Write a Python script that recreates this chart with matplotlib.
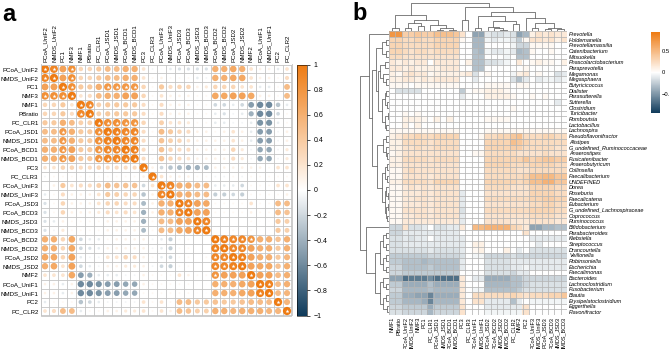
import matplotlib

matplotlib.use("Agg")
import matplotlib.pyplot as plt  # noqa: E402
import numpy as np  # noqa: E402
from matplotlib.colors import LinearSegmentedColormap, Normalize  # noqa: E402
from matplotlib.patches import Circle  # noqa: E402
from matplotlib.cm import ScalarMappable  # noqa: E402

plt.rcParams["font.family"] = ["Liberation Sans", "DejaVu Sans"]

# ---------------- panel a: correlation between ordination axes ----------------
VARS_A = ["PCoA_UniF2", "NMDS_UniF2", "PC1", "NMF3", "NMF1", "PBratio", "PC_CLR1",
          "PCoA_JSD1", "NMDS_JSD1", "PCoA_BCD1", "NMDS_BCD1", "PC3", "PC_CLR3",
          "PCoA_UniF3", "NMDS_UniF3", "PCoA_JSD3", "PCoA_BCD3", "NMDS_JSD3",
          "NMDS_BCD3", "PCoA_BCD2", "NMDS_BCD2", "PCoA_JSD2", "NMDS_JSD2", "NMF2",
          "PCoA_UniF1", "NMDS_UniF1", "PC2", "PC_CLR2"]

# upper triangle, row i holds columns i+1 .. 27
CORR_UPPER = [
    [.92, .70, .85, .30, .30, .40, .50, .50, .60, .60, .20, -.05, -.02, -.10, -.15, -.15, -.15, -.15, .60, .60, .65, .60, .20, .10, .10, -.10, .20],
    [.70, .85, .30, .30, .40, .50, .50, .60, .60, .20, .05, .10, .05, .05, .05, -.10, -.05, .60, .60, .65, .65, .20, .10, .10, .05, .25],
    [.85, .40, .40, .60, .78, .78, .78, .78, .30, .05, .40, .25, .30, .30, .10, .15, .30, .30, .30, .20, .20, -.10, -.10, .05, .50],
    [.20, .25, .50, .60, .60, .70, .70, .30, .05, .20, .10, .10, .10, .05, .05, .65, .65, .70, .70, .65, .10, .10, .05, .50],
    [.90, .35, .40, .40, .40, .40, .25, .05, .25, .10, .10, .10, .05, .05, -.20, -.20, -.10, -.20, -.50, -.60, -.60, -.30, -.10],
    [.35, .40, .40, .40, .40, .25, .05, .25, .10, .10, .10, .05, .05, -.10, -.15, -.05, -.10, -.40, -.60, -.60, -.20, .05],
    [.85, .85, .80, .80, .30, .05, .35, .20, .20, .15, .05, .05, -.10, -.10, -.05, -.05, -.10, -.55, -.55, -.10, .05],
    [.95, .90, .90, .25, .05, .50, .40, .30, .25, .10, .10, .05, .10, .20, .10, -.10, -.50, -.50, -.05, .10],
    [.90, .90, .25, .05, .45, .35, .30, .20, .10, .10, .10, .10, .20, .10, -.10, -.50, -.50, -.05, .10],
    [.95, .25, .05, .45, .30, .25, .25, .10, .10, .10, .10, .30, .15, -.05, -.45, -.45, -.05, .15],
    [.25, .05, .45, .30, .25, .20, .10, .10, .10, .10, .25, .15, -.05, -.45, -.45, -.05, .15],
    [.10, -.20, -.30, -.35, -.40, -.40, -.35, .10, .10, .10, .10, .10, .10, .05, .20, .20],
    [.20, .10, .10, .10, .05, .05, -.05, -.05, .05, -.05, .05, .05, .05, .05, .05],
    [.92, .60, .60, .50, .50, -.10, -.10, -.10, -.20, .05, .05, .05, .20, .20],
    [.60, .60, .50, .50, -.25, -.25, -.20, -.25, .05, .05, .05, .05, .10],
    [.92, .70, .65, .05, .05, .05, .05, .20, .05, .05, .50, .50],
    [.70, .70, .05, .05, .05, .05, .10, .05, .05, .50, .45],
    [.92, .00, .00, .00, .00, .05, .02, .02, .40, .35],
    [.00, .00, .05, .00, .05, .02, .02, .40, .35],
    [.95, .90, .90, .80, .60, .60, .45, .60],
    [.90, .90, .70, .60, .60, .40, .60],
    [.95, .70, .60, .60, .40, .55],
    [.70, .65, .65, .45, .60],
    [.70, .70, .50, .60],
    [.95, .50, .60],
    [.50, .55],
    [.55],
]
STAR_CUTOFF = 0.75

# ---------------- panel b: genera vs ordination axes ----------------
COLS_B = ["NMF1", "PBratio", "PCoA_UniF2", "NMDS_UniF2", "NMF3", "PC1", "PC_CLR1",
          "PCoA_JSD1", "NMDS_JSD1", "PCoA_BCD1", "NMDS_BCD1", "PC3", "PC_CLR3",
          "PCoA_UniF1", "NMDS_UniF1", "PCoA_JSD2", "PCoA_BCD2", "NMDS_JSD2",
          "NMDS_BCD2", "PC_CLR2", "NMF2", "PC2", "PCoA_UniF3", "NMDS_UniF3",
          "PCoA_JSD3", "PCoA_BCD3", "NMDS_JSD3", "NMDS_BCD3"]
GENERA = ["Prevotella", "Holdemanella", "Prevotellamassilia", "Catenibacterium",
          "Mitsuokella", "Phascolarctobacterium", "Paraprevotella", "Megamonas",
          "Megasphaera", "Butyricicoccus", "Dialister", "Parasutterella", "Sutterella",
          "Clostridium", "Turicibacter", "Romboutsia", "Lactobacillus", "Lachnospira",
          "Pseudoflavonifractor", "Alistipes", "G_undefined_Ruminococcaceae",
          "Anaerostipes", "Fusicatenibacter", "Anaerobutyricum", "Collinsella",
          "Faecalibacterium", "UNDEFINED", "Dorea", "Roseburia", "Faecalicatena",
          "Eubacterium", "G_undefined_Lachnospiraceae", "Coprococcus", "Ruminococcus",
          "Bifidobacterium", "Parabacteroides", "Klebsiella", "Streptococcus",
          "Drancourtella", "Veillonella", "Robinsoniella", "Escherichia", "Faecalimonas",
          "Bacteroides", "Lachnoclostridium", "Fusobacterium", "Blautia",
          "Erysipelatoclostridium", "Eggerthella", "Flavonifractor"]

GENUS_CORR = [
    [.75, .75, .35, .35, .40, .35, .35, .45, .45, .45, .40, .20, .00, -.45, -.45, -.10, -.15, -.15, -.10, -.15, -.45, -.35, .10, .20, .15, .20, .15, .15],
    [.30, .30, .25, .25, .30, .25, .25, .30, .30, .30, .30, .05, .00, -.35, -.35, -.05, -.10, -.05, -.05, -.10, -.25, .05, .20, .20, .15, .20, .10, .20],
    [.30, .30, .25, .25, .25, .25, .25, .30, .30, .30, .30, .00, .00, -.35, -.35, .00, .00, .00, .00, -.05, -.20, -.20, .05, .05, .05, .05, .00, .00],
    [.30, .30, .25, .20, .25, .25, .20, .25, .25, .25, .25, .00, .00, -.30, -.35, -.05, -.10, -.10, -.05, -.10, -.35, -.30, .05, .00, .00, .05, .00, .00],
    [.25, .25, .20, .20, .20, .20, .20, .20, .20, .20, .20, .00, .00, -.30, -.30, .00, .00, .00, -.05, .00, -.30, -.30, .00, .00, .00, .00, .00, .00],
    [.15, .10, .15, .10, .15, .15, .00, .15, .15, .15, .15, .00, .10, -.30, -.30, -.15, -.15, -.10, -.05, .00, .15, .00, .05, .10, .05, .05, .00, .10],
    [.15, .15, .10, .15, .10, .10, .10, .10, .15, .15, .15, .00, .00, -.30, -.30, .00, .00, .00, .00, .00, .00, .05, .00, .00, .00, .00, .00, .00],
    [.10, .05, .15, .20, .15, .15, .05, .10, .10, .10, .10, .10, .15, -.15, .00, .05, .00, .00, .00, -.05, .10, .15, .00, .05, .00, .00, -.15, -.10],
    [.10, .10, .15, .15, .10, .15, .10, .15, .15, .15, .15, .00, .00, -.10, .00, .00, .00, .00, .00, -.15, -.30, -.10, .00, -.10, -.05, -.05, -.10, -.05],
    [.05, .05, .05, .00, .05, .05, .05, .05, .05, .05, .05, .00, .00, .00, .00, .05, .05, .05, .05, .00, .05, .05, .00, .00, .00, .00, .00, .00],
    [.00, -.15, -.15, -.15, -.15, .00, .00, .00, .00, .00, .00, -.25, .00, .05, .05, .10, .10, .10, .05, .00, .00, .00, .00, .00, .00, .00, .00, .00],
    [.00, .00, .00, .00, .00, .00, .00, .00, .00, .00, .00, -.10, .00, .00, .00, .10, .10, .10, .10, .05, .00, .00, .05, .00, .05, .00, .00, .00],
    [.00, .00, .00, .00, .00, .00, .00, .00, .00, .00, .00, .00, .00, .00, .00, .00, .00, .00, .00, .00, .00, .00, .00, .00, .00, .00, -.10, .00],
    [.00, .00, .00, .00, .00, .00, .00, .00, .00, .00, .00, .00, .00, .00, .00, .00, .00, .00, .00, .05, .00, .00, .00, .00, .00, .00, .00, .00],
    [.00, .00, .05, .00, .05, .00, .00, .00, .00, .00, .00, .00, .00, .00, .00, .00, .00, .00, .00, .00, .00, .00, .00, .00, .00, .00, .00, .00],
    [.00, .00, .10, .10, .10, .05, .00, .10, .00, .10, .00, .00, .00, .00, .00, .05, .05, .05, .05, .00, .00, .00, .00, .00, .00, .00, .00, .00],
    [.00, .00, .10, .00, .10, .00, .00, .00, .00, .00, .00, .00, .00, .00, .00, .00, .00, .00, .00, .00, .00, .00, .00, .00, .00, .00, .00, .00],
    [.05, .05, .05, .05, .05, .05, .05, .05, .05, .05, .05, .00, .00, .00, .00, .05, .05, .05, .05, .05, .05, .05, .05, .05, .05, .05, .05, .05],
    [.10, .15, .25, .25, .30, .25, .25, .30, .30, .30, .30, .00, .00, .00, .05, .25, .25, .30, .30, .40, .45, .25, .25, .25, .30, .30, .25, .25],
    [.10, .10, .25, .25, .25, .25, .20, .25, .25, .25, .25, .00, .00, .00, .00, .30, .30, .30, .30, .45, .40, .30, .25, .25, .25, .25, .25, .25],
    [.10, .10, .20, .20, .25, .20, .20, .25, .25, .25, .25, .00, .00, .00, .00, .30, .30, .30, .30, .35, .35, .25, .25, .25, .25, .25, .20, .20],
    [.05, .10, .20, .20, .20, .20, .20, .20, .20, .20, .20, .00, .00, .05, .05, .25, .25, .25, .25, .25, .20, .20, .20, .20, .25, .20, .20, .20],
    [.10, .10, .25, .25, .25, .25, .20, .25, .25, .25, .25, .00, .00, .00, .00, .30, .30, .30, .30, .30, .30, .40, .30, .35, .40, .40, .35, .35],
    [.10, .10, .20, .20, .20, .20, .20, .20, .20, .20, .20, .00, .00, .00, .00, .30, .30, .30, .30, .25, .25, .25, .30, .30, .30, .30, .25, .25],
    [.05, .05, .20, .25, .20, .20, .20, .20, .20, .20, .20, .00, .00, .00, .00, .25, .25, .25, .25, .25, .20, .20, .25, .25, .25, .25, .25, .25],
    [.05, .05, .20, .20, .20, .20, .15, .20, .20, .20, .20, .00, .00, .00, .00, .25, .25, .25, .25, .25, .25, .30, .45, .45, .50, .50, .40, .40],
    [.10, .10, .25, .25, .25, .25, .20, .30, .30, .30, .30, .00, .00, .00, .00, .30, .30, .30, .30, .30, .25, .30, .45, .45, .55, .55, .40, .40],
    [.05, .05, .15, .20, .15, .20, .15, .20, .20, .20, .20, .00, .00, .00, .00, .25, .25, .25, .25, .20, .20, .20, .30, .30, .30, .30, .25, .25],
    [.05, .05, .15, .15, .15, .20, .15, .20, .20, .20, .20, -.10, .00, .00, .00, .20, .20, .20, .20, .20, .20, .20, .30, .30, .30, .30, .25, .25],
    [.05, .05, .15, .15, .20, .20, .15, .20, .20, .20, .20, -.10, .00, .00, .00, .25, .25, .25, .25, .25, .25, .25, .30, .30, .35, .35, .30, .30],
    [.05, .05, .15, .15, .15, .20, .15, .20, .20, .20, .20, -.10, .00, .00, .00, .20, .20, .20, .20, .20, .20, .20, .25, .25, .30, .30, .25, .25],
    [.05, .05, .20, .20, .20, .20, .15, .20, .20, .20, .20, -.15, .00, .00, .00, .25, .25, .25, .25, .25, .25, .25, .30, .30, .30, .30, .25, .25],
    [.05, .05, .15, .15, .20, .20, .15, .20, .20, .20, .20, -.10, .00, .00, .00, .20, .20, .20, .20, .20, .20, .20, .25, .25, .25, .25, .20, .20],
    [.05, .05, .15, .15, .15, .15, .15, .15, .15, .15, .15, -.10, .00, .00, .00, .20, .20, .20, .20, .15, .15, .15, .20, .20, .20, .20, .15, .15],
    [-.20, -.20, .20, -.15, -.15, -.10, .00, -.15, -.15, -.10, -.10, .15, .00, .50, .50, .55, .55, .55, .55, .30, .25, .15, -.45, -.45, -.35, -.35, -.30, -.30],
    [-.20, -.20, -.10, -.10, -.10, -.10, -.10, -.10, -.10, -.10, -.10, .00, .00, .00, .00, .00, .00, .00, .00, .00, .00, .20, .00, .00, .00, .00, .00, .00],
    [-.15, -.15, -.10, -.15, -.10, -.10, .00, -.10, -.10, -.10, -.10, -.10, .00, .00, .00, .00, .00, .00, .00, .00, .00, .00, -.10, -.10, -.10, -.10, -.10, -.10],
    [-.15, -.15, -.10, -.10, -.10, -.10, -.10, -.10, -.10, -.10, -.10, -.10, .00, .10, .10, .00, .00, .00, .00, .00, .00, .00, .00, -.10, .00, .00, .00, .00],
    [-.15, -.15, -.15, -.15, -.15, -.15, -.10, -.15, -.15, -.15, -.15, -.10, .00, .05, .10, .00, .00, .00, .10, .00, -.10, .00, -.15, -.15, -.15, -.15, -.15, -.15],
    [-.25, -.25, -.25, -.25, -.25, -.25, -.20, -.20, -.20, -.20, -.20, -.15, .00, -.05, -.05, -.20, -.20, -.20, -.20, -.15, -.20, -.20, -.20, -.20, -.20, -.20, -.20, -.20],
    [-.25, -.25, -.30, -.30, -.30, -.35, -.30, -.30, -.30, -.30, -.30, -.10, .00, .00, .00, -.15, -.15, -.15, -.15, -.10, -.10, -.10, -.10, -.10, -.10, -.10, -.10, -.10],
    [-.20, -.20, -.30, -.30, -.30, -.30, -.25, -.30, -.30, -.30, -.30, -.10, .00, .00, .00, -.15, -.15, -.15, -.15, -.10, -.10, -.05, -.10, -.10, -.10, -.10, -.10, -.10],
    [-.20, -.20, -.25, -.25, -.25, -.25, -.25, -.25, -.25, -.25, -.25, .00, .00, .00, .00, -.15, -.15, -.15, -.15, -.20, -.10, -.10, .00, .00, .00, .00, .00, .00],
    [-.45, -.45, -.70, -.65, -.65, -.65, -.55, -.70, -.70, -.70, -.70, .15, .00, -.10, -.10, -.40, -.40, -.40, -.40, -.30, -.30, -.20, -.20, -.20, -.20, -.20, -.20, -.20],
    [-.25, -.25, -.40, -.40, -.40, -.40, -.30, -.40, -.40, -.40, -.40, .15, .00, .00, .00, -.35, -.35, -.35, -.35, -.30, -.30, -.20, -.15, -.15, -.15, -.15, -.15, -.15],
    [-.20, -.20, -.35, -.35, -.35, -.35, -.30, -.35, -.35, -.35, -.35, .15, .00, -.05, -.05, -.30, -.30, -.30, -.30, -.30, -.25, -.15, -.15, -.15, -.15, -.15, -.15, -.15],
    [-.25, -.25, -.40, -.40, -.45, -.45, -.60, -.40, -.40, -.40, -.40, .15, .00, .25, .25, .25, .25, .25, .25, .30, .25, .20, .25, .25, .25, .30, .30, .40],
    [-.25, -.25, -.35, -.35, -.35, -.40, -.60, -.35, -.35, -.35, -.35, .15, .00, .20, .20, -.10, -.10, -.10, -.10, -.30, -.10, .00, -.05, -.05, -.05, -.05, -.05, -.05],
    [-.20, -.20, -.25, -.25, -.25, -.25, -.40, -.25, -.25, -.25, -.25, .20, .00, .00, .00, -.10, -.10, -.10, -.10, -.10, -.10, .20, .00, .00, .00, .00, .00, .00],
    [-.15, -.15, -.20, -.20, -.20, -.20, -.35, -.20, -.20, -.20, -.20, .20, .00, .00, .00, -.05, -.05, -.05, -.05, -.05, -.05, .20, .00, .00, .00, .00, .00, .00],
]

# dendrograms as nested [left, right, merge height]; leaves are display positions
COL_TREE = [
    [[0, 1, .10], [[[2, 3, .12], [4, 5, .18], .30], [6, [[7, 8, .04], [9, 10, .04], .10], .20], .40], .57],
    [[11, 12, .39],
     [[[13, 14, .10], [[15, [16, [17, 18, .05], .10], .15], [19, 20, .25], .35], .53],
      [21, [[22, 23, .12], [[24, 25, .06], [26, 27, .06], .12], .30], .45], .69],
     .87],
    1.0]
ROW_TREE = [
    [0,
     [[[[1, 2, .10], [3, 4, .12], .25],
       [[[5, 6, .15], [7, [8, 9, .10], .20], .30],
        [[[10, 11, .10], [12, 13, .08], .15], [[14, 15, .05], [16, 17, .10], .15], .25], .38], .45],
      [[[18, 19, .10], [20, [21, 22, .08], .12], .20],
       [[[23, 24, .08], [25, 26, .06], .15], [[27, [28, 29, .05], .10], [[30, 31, .05], [32, 33, .07], .10], .15], .25], .40],
      .60],
     .70],
    [34,
     [[[[35, 36, .10], [37, 38, .12], .20], [[39, 40, .10], [41, 42, .10], .20], .30],
      [[43, [44, 45, .10], .20], [[46, 47, .12], [48, 49, .08], .20], .30], .50],
     .78],
    1.0]

CMAP = LinearSegmentedColormap.from_list("bo", ["#0f3b5b", "#ffffff", "#ee7b12"])


def full_matrix(upper):
    n = len(upper) + 1
    m = np.eye(n)
    for i, row in enumerate(upper):
        for k, v in enumerate(row):
            m[i, i + 1 + k] = v
            m[i + 1 + k, i] = v
    return m


def draw_tree(ax, node, side):
    """Draw a dendrogram node, return (leaf position, height)."""
    if isinstance(node, int):
        return node, 0.0
    left, right, h = node
    pl, hl = draw_tree(ax, left, side)
    pr, hr = draw_tree(ax, right, side)
    if side == "top":
        ax.plot([pl, pl, pr, pr], [hl, h, h, hr], color="#6b6b6b", lw=0.6)
    else:
        ax.plot([hl, h, h, hr], [pl, pl, pr, pr], color="#6b6b6b", lw=0.6)
    return (pl + pr) / 2, h


W, H = 669, 349
fig = plt.figure(figsize=(W / 100, H / 100), dpi=100, facecolor="white")


def px_axes(x0, y0, x1, y1):
    return fig.add_axes([x0 / W, 1 - y1 / H, (x1 - x0) / W, (y1 - y0) / H])


# ---- panel a ----
corr = full_matrix(CORR_UPPER)
n = len(VARS_A)
norm_a = Normalize(-1, 1)
ax = px_axes(40.5, 64.5, 291.5, 315.5)
for i in range(n):
    for j in range(n):
        r = corr[i, j]
        ax.add_patch(Circle((j, i), 0.46 * np.sqrt(abs(r)), fc=CMAP(norm_a(r)), ec="none"))
yy, xx = np.nonzero(corr >= STAR_CUTOFF)
ax.scatter(xx, yy, marker="*", s=9, c="white", linewidths=0, zorder=3)
for k in range(n + 1):
    ax.axhline(k - 0.5, color="#c4c4c4", lw=0.6, zorder=0)
    ax.axvline(k - 0.5, color="#c4c4c4", lw=0.6, zorder=0)
ax.set_xlim(-0.5, n - 0.5)
ax.set_ylim(n - 0.5, -0.5)
ax.set_xticks(range(n))
ax.set_xticklabels(VARS_A, rotation=90, fontsize=4.4)
ax.set_yticks(range(n))
ax.set_yticklabels(VARS_A, fontsize=4.4)
ax.xaxis.tick_top()
ax.tick_params(length=0, pad=1.5)
for s in ax.spines.values():
    s.set_color("#c4c4c4")
    s.set_linewidth(0.6)

cax = px_axes(296.5, 64.5, 307, 315.5)
cb = fig.colorbar(ScalarMappable(norm_a, CMAP), cax=cax, ticks=np.linspace(-1, 1, 11))
cb.ax.set_yticklabels([f"{t:g}".replace("-", "\u2212") for t in np.round(np.linspace(-1, 1, 11), 1)])
cb.ax.tick_params(labelsize=5, length=2, width=0.5, pad=3)
cb.outline.set_linewidth(0.4)

fig.text(2 / W, 1 - 3 / H, "a", fontsize=17, fontweight="bold", va="top")

# ---- panel b ----
data = np.array(GENUS_CORR)
nr, nc = data.shape
norm_b = Normalize(-0.96, 0.96)
axh = px_axes(389, 31, 567, 315)
axh.imshow(data, cmap=CMAP, norm=norm_b, aspect="auto", interpolation="nearest")
axh.hlines(np.arange(nr + 1) - 0.5, -0.5, nc - 0.5, color="#b4b4b4", lw=0.55)
axh.vlines(np.arange(nc + 1) - 0.5, -0.5, nr - 0.5, color="#b4b4b4", lw=0.55)
axh.set_xlim(-0.5, nc - 0.5)
axh.set_ylim(nr - 0.5, -0.5)
axh.set_xticks(range(nc))
axh.set_xticklabels(COLS_B, rotation=90, fontsize=4.0)
axh.set_yticks(range(nr))
axh.set_yticklabels(GENERA, fontsize=4.0, style="italic")
axh.yaxis.tick_right()
axh.tick_params(length=0, pad=1.5)
for s in axh.spines.values():
    s.set_visible(False)

axt = px_axes(389, 3, 567, 31)
draw_tree(axt, COL_TREE, "top")
axt.set_xlim(-0.5, nc - 0.5)
axt.set_ylim(0, 1.0)
axt.axis("off")

axl = px_axes(360, 31, 389, 315)
draw_tree(axl, ROW_TREE, "left")
axl.set_xlim(1.0, 0)
axl.set_ylim(nr - 0.5, -0.5)
axl.axis("off")

cbx = px_axes(651, 32, 660, 113)
cb2 = fig.colorbar(ScalarMappable(norm_b, CMAP), cax=cbx, ticks=[-0.5, 0, 0.5])
cb2.ax.set_yticklabels(["\u22120.5", "0", "0.5"])
cb2.ax.tick_params(labelsize=4.2, length=0, pad=1)
cb2.outline.set_visible(False)

fig.text(352 / W, 1 - 2 / H, "b", fontsize=17, fontweight="bold", va="top")

fig.savefig("out.png", dpi=100, facecolor="white")
